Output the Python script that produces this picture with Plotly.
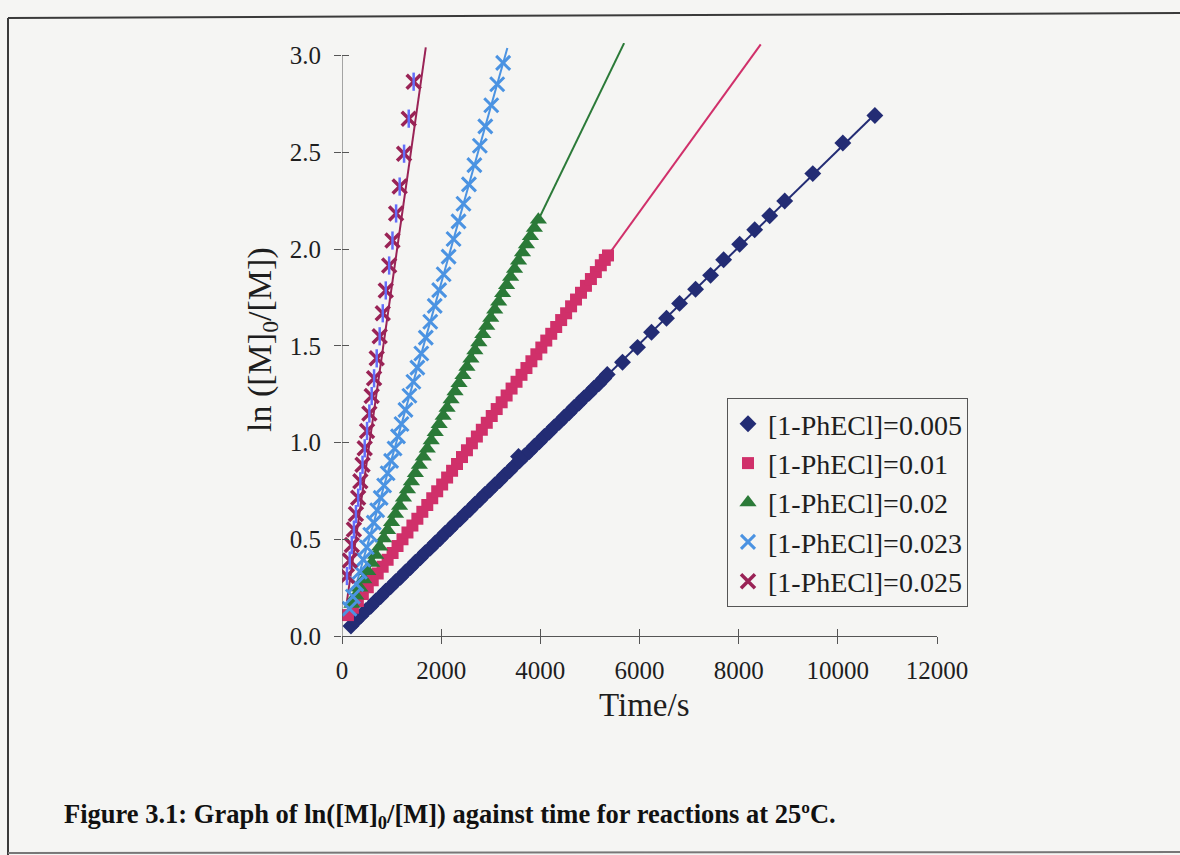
import plotly.graph_objects as go

# ---- data: ln([M]0/[M]) versus time (s) for each catalyst concentration ----
series_names = ["[1-PhECl]=0.005", "[1-PhECl]=0.01", "[1-PhECl]=0.02",
                "[1-PhECl]=0.023", "[1-PhECl]=0.025"]

t_005 = [180, 280, 380, 480, 580, 680, 780, 880, 980, 1080, 1180, 1280, 1380,
         1480, 1580, 1680, 1780, 1880, 1980, 2080, 2180, 2280, 2380, 2480,
         2580, 2680, 2780, 2880, 2980, 3080, 3180, 3280, 3380, 3480, 3560,
         3580, 3680, 3780, 3880, 3980, 4080, 4180, 4280, 4380, 4480, 4580,
         4680, 4780, 4880, 4980, 5080, 5180, 5280, 5350,
         5657, 5960, 6242, 6545, 6808, 7131, 7434, 7697, 8020, 8323, 8626,
         8929, 9495, 10101, 10747]
y_005 = [0.052, 0.079, 0.104, 0.131, 0.154, 0.181, 0.204, 0.231, 0.254,
         0.281, 0.304, 0.331, 0.354, 0.381, 0.404, 0.431, 0.454, 0.481,
         0.504, 0.531, 0.554, 0.581, 0.604, 0.631, 0.654, 0.681, 0.704,
         0.731, 0.754, 0.781, 0.804, 0.831, 0.854, 0.881, 0.928, 0.905,
         0.931, 0.954, 0.981, 1.004, 1.031, 1.054, 1.081, 1.104, 1.131,
         1.154, 1.181, 1.204, 1.231, 1.254, 1.281, 1.304, 1.331, 1.352,
         1.415, 1.492, 1.570, 1.642, 1.719, 1.792, 1.864, 1.945, 2.025,
         2.100, 2.172, 2.248, 2.390, 2.548, 2.690]

t_01 = [120, 220, 320, 420, 520, 620, 720, 820, 920, 1020, 1120, 1220, 1320,
        1420, 1520, 1620, 1720, 1820, 1920, 2020, 2120, 2220, 2320, 2420,
        2520, 2620, 2720, 2820, 2920, 3020, 3120, 3220, 3320, 3420, 3520,
        3620, 3720, 3820, 3920, 4020, 4120, 4220, 4320, 4420, 4520, 4620,
        4720, 4820, 4920, 5020, 5120, 5220, 5300, 5365]
y_01 = [0.108, 0.146, 0.181, 0.217, 0.252, 0.288, 0.323, 0.358, 0.394,
        0.429, 0.465, 0.500, 0.535, 0.571, 0.606, 0.642, 0.677, 0.712,
        0.748, 0.783, 0.819, 0.854, 0.889, 0.925, 0.960, 0.996, 1.031,
        1.066, 1.102, 1.137, 1.173, 1.208, 1.243, 1.279, 1.314, 1.350,
        1.385, 1.420, 1.456, 1.491, 1.527, 1.562, 1.597, 1.633, 1.668,
        1.704, 1.739, 1.774, 1.810, 1.845, 1.881, 1.916, 1.944, 1.967]

t_02 = [200, 280, 360, 440, 520, 600, 680, 760, 840, 920, 1000, 1080, 1160,
        1240, 1320, 1400, 1480, 1560, 1640, 1720, 1800, 1880, 1960, 2040,
        2120, 2200, 2280, 2360, 2440, 2520, 2600, 2680, 2760, 2840, 2920,
        3000, 3080, 3160, 3240, 3320, 3400, 3480, 3560, 3640, 3720, 3800,
        3880, 3960]
y_02 = [0.166, 0.208, 0.250, 0.292, 0.335, 0.377, 0.419, 0.461, 0.504,
        0.546, 0.588, 0.630, 0.672, 0.715, 0.757, 0.799, 0.841, 0.884,
        0.926, 0.968, 1.010, 1.053, 1.095, 1.137, 1.179, 1.222, 1.264,
        1.306, 1.348, 1.391, 1.433, 1.475, 1.517, 1.560, 1.602, 1.644,
        1.686, 1.728, 1.771, 1.813, 1.855, 1.897, 1.940, 1.982, 2.024,
        2.066, 2.109, 2.151]

t_023 = [150, 220, 290, 360, 430, 500, 570, 640, 710, 780, 850, 920, 990,
         1060, 1130, 1200, 1280, 1360, 1440, 1520, 1600, 1690, 1780, 1870,
         1960, 2050, 2150, 2250, 2350, 2450, 2560, 2670, 2780, 2890, 3010,
         3130, 3250]
y_023 = [0.141, 0.204, 0.268, 0.332, 0.395, 0.459, 0.523, 0.586, 0.650,
         0.714, 0.778, 0.841, 0.905, 0.969, 1.032, 1.096, 1.169, 1.242,
         1.314, 1.387, 1.460, 1.542, 1.624, 1.706, 1.788, 1.870, 1.961,
         2.052, 2.143, 2.234, 2.334, 2.434, 2.534, 2.634, 2.743, 2.852,
         2.962]

t_025 = [100, 156, 198, 240, 281, 326, 370, 414, 458, 505, 552, 599, 647,
         700, 760, 822, 883, 951, 1018, 1091, 1163, 1252, 1346, 1445]
y_025 = [0.310, 0.390, 0.470, 0.550, 0.630, 0.715, 0.800, 0.885, 0.970,
         1.060, 1.150, 1.240, 1.332, 1.435, 1.549, 1.668, 1.786, 1.915,
         2.044, 2.184, 2.323, 2.493, 2.674, 2.865]

# linear trendlines: slope, intercept and forecast end (s)
trend_slope = [2.50e-4, 3.54e-4, 5.28e-4, 9.10e-4, 1.80e-3]
trend_intercept = [0.010, 0.068, 0.060, 0.004, 0.000]
trend_end = [10747, 8445, 5690, 3335, 1690]

x_ticks = [0, 2000, 4000, 6000, 8000, 10000, 12000]
y_ticks = [0.0, 0.5, 1.0, 1.5, 2.0, 2.5, 3.0]

colors = ["#232c74", "#d0306a", "#2b7a38", "#4b93e2", "#9a2356"]

times = [t_005, t_01, t_02, t_023, t_025]
values = [y_005, y_01, y_02, y_023, y_025]

# ---- page geometry (pixels) ----
W, H = 1180, 855
ML, MR, MT, MB = 342, 243, 43, 219
PW, PH = W - ML - MR, H - MT - MB
Y_TOP = 3.065


def px_x(p):
    return (p - ML) / PW


def px_y(p):
    return (H - MB - p) / PH


SERIF = "Liberation Serif, Times New Roman, serif"
INK = "#1e1e1e"
BG = "#f5f5f3"

fig = go.Figure()

# trendlines beneath the markers
for i in range(5):
    x0, x1 = times[i][0], trend_end[i]
    fig.add_trace(go.Scatter(
        x=[x0, x1],
        y=[trend_slope[i] * x0 + trend_intercept[i],
           trend_slope[i] * x1 + trend_intercept[i]],
        mode="lines", line=dict(color=colors[i], width=2),
        showlegend=False, hoverinfo="skip"))

marker_styles = [
    dict(symbol="diamond", size=13, color=colors[0]),
    dict(symbol="square", size=12, color=colors[1]),
    dict(symbol="triangle-up", size=15, color=colors[2]),
    dict(symbol="x-thin-open", size=14, color=colors[3],
         line=dict(color=colors[3], width=3)),
    dict(symbol="x-thin-open", size=14, color=colors[4],
         line=dict(color=colors[4], width=3.5)),
]

for i in range(5):
    fig.add_trace(go.Scatter(
        x=times[i], y=values[i], mode="markers", name=series_names[i],
        marker=marker_styles[i], legendgroup=series_names[i]))

# vertical stroke completing the star marker of the last series
fig.add_trace(go.Scatter(
    x=t_025, y=y_025, mode="markers", showlegend=False,
    legendgroup=series_names[4], hoverinfo="skip",
    marker=dict(symbol="line-ns-open", size=13,
                line=dict(color=colors[4], width=2.5))))

axis_common = dict(showgrid=False, zeroline=False, ticklen=7, tickwidth=1,
                   tickcolor="#555555",
                   tickfont=dict(family=SERIF, size=25, color=INK))

fig.update_layout(
    width=W, height=H,
    margin=dict(l=ML, r=MR, t=MT, b=MB, pad=0),
    paper_bgcolor=BG, plot_bgcolor=BG,
    font=dict(family=SERIF, color=INK),
    xaxis=dict(range=[0, 12000], tickvals=x_ticks,
               ticktext=[str(v) for v in x_ticks], ticks="outside",
               ticklabelstandoff=5,
               showline=True, linecolor="#555555", linewidth=1,
               **axis_common),
    yaxis=dict(range=[0, Y_TOP], tickvals=y_ticks,
               ticktext=[f"{v:.1f}" for v in y_ticks], ticks="outside",
               ticklabelstandoff=8,
               showline=False, **axis_common),
    # inner halves of the crossing tick marks
    xaxis2=dict(range=[0, 12000], tickvals=x_ticks, ticks="inside",
                showticklabels=False, overlaying="x",
                showgrid=False, zeroline=False, ticklen=7,
                tickcolor="#555555", anchor="y"),
    yaxis2=dict(range=[0, Y_TOP], tickvals=y_ticks, ticks="inside",
                showticklabels=False, overlaying="y", showgrid=False,
                zeroline=False, ticklen=7, tickcolor="#555555",
                anchor="x"),
    legend=dict(x=px_x(727), y=px_y(398), xanchor="left", yanchor="top",
                bgcolor=BG, bordercolor="#555555", borderwidth=1,
                font=dict(family=SERIF, size=28, color=INK),
                itemwidth=30, traceorder="grouped", tracegroupgap=0),
    showlegend=True,
)

# empty trace on the secondary axes so their ticks are drawn
fig.add_trace(go.Scatter(x=[None], y=[None], xaxis="x2", yaxis="y2",
                         showlegend=False, hoverinfo="skip"))

shapes = [
    # vertical axis line stops at the top tick
    dict(type="line", xref="x", yref="y", x0=0, x1=0, y0=0, y1=3.0,
         line=dict(color="#555555", width=1)),
    # outer frame
    dict(type="line", xref="paper", yref="paper", x0=px_x(8), x1=px_x(1180),
         y0=px_y(18), y1=px_y(13), line=dict(color="#3a3a3a", width=2)),
    dict(type="line", xref="paper", yref="paper", x0=px_x(8), x1=px_x(8),
         y0=px_y(18), y1=px_y(855), line=dict(color="#3a3a3a", width=2)),
    dict(type="line", xref="paper", yref="paper", x0=px_x(8), x1=px_x(1180),
         y0=px_y(853), y1=px_y(852), line=dict(color="#777777", width=2)),
]
fig.update_layout(shapes=shapes)

annotations = [
    dict(text="Time/s", xref="paper", yref="paper", x=px_x(644), y=px_y(705),
         xanchor="center", yanchor="middle", showarrow=False,
         font=dict(family=SERIF, size=33, color=INK)),
    dict(text="ln ([M]<sub>0</sub>/[M])", xref="paper", yref="paper",
         x=px_x(262), y=px_y(340), xanchor="center", yanchor="middle",
         textangle=-90, showarrow=False,
         font=dict(family=SERIF, size=34, color=INK)),
    dict(text="<b>Figure 3.1: Graph of ln([M]<sub>0</sub>/[M]) against time "
              "for reactions at 25ºC.</b>",
         xref="paper", yref="paper", x=px_x(62), y=px_y(816),
         xanchor="left", yanchor="middle", showarrow=False,
         font=dict(family=SERIF, size=26.5, color="#111111")),
]
fig.update_layout(annotations=annotations)

fig.write_html("out.html")
